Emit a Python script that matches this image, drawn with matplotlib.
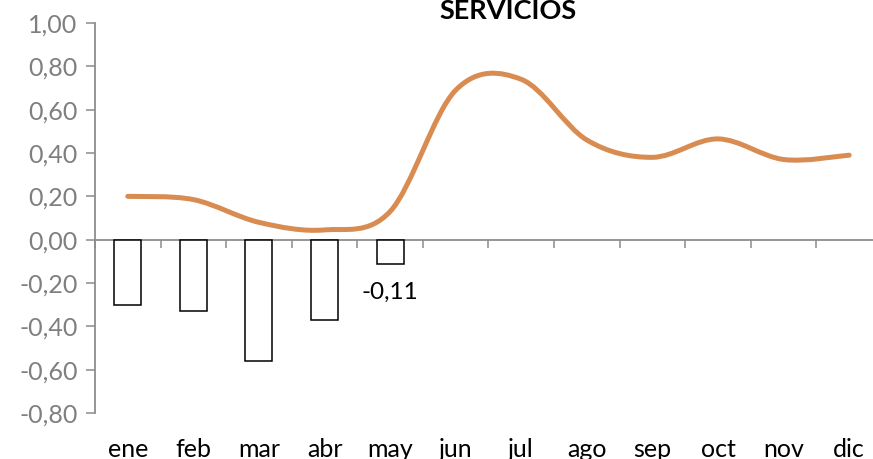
import numpy as np
import matplotlib
matplotlib.use("Agg")
import matplotlib.pyplot as plt
from matplotlib.path import Path
from matplotlib.patches import PathPatch

plt.rcParams["font.family"] = ["Lato", "DejaVu Sans"]

months = ["ene", "feb", "mar", "abr", "may", "jun", "jul", "ago", "sep", "oct", "nov", "dic"]
bar_vals = [-0.30, -0.33, -0.56, -0.37, -0.11]
line_vals = [0.20, 0.185, 0.08, 0.045, 0.13, 0.69, 0.74, 0.46, 0.38, 0.465, 0.37, 0.39]
yticks = [-0.8, -0.6, -0.4, -0.2, 0.0, 0.2, 0.4, 0.6, 0.8, 1.0]

fig = plt.figure(figsize=(8.73, 4.59), dpi=100)
ax = fig.add_axes([0.1088, 0.1002, 0.9015, 0.8497])

x = np.arange(len(months))
ax.bar(x[:len(bar_vals)], bar_vals, width=0.41, color="white", edgecolor="black", linewidth=1.1, zorder=2)

# smoothed line, Excel style (Catmull-Rom -> cubic Bezier)
pts = np.column_stack([x, line_vals]).astype(float)
verts = [pts[0]]
codes = [Path.MOVETO]
n = len(pts)
for i in range(n - 1):
    p0 = pts[max(i - 1, 0)]
    p1 = pts[i]
    p2 = pts[i + 1]
    p3 = pts[min(i + 2, n - 1)]
    c1 = p1 + (p2 - p0) / 6
    c2 = p2 - (p3 - p1) / 6
    verts += [c1, c2, p2]
    codes += [Path.CURVE4] * 3
ax.add_patch(PathPatch(Path(verts, codes), facecolor="none", edgecolor="#D98C52",
                       linewidth=3.6, capstyle="round", zorder=3))

ax.text(4, -0.245, "-0,11", ha="center", va="center", fontsize=17.5, color="black")

ax.set_xlim(-0.5, 11.5)
ax.set_ylim(-0.8, 1.0)
ax.set_yticks(yticks)
ax.set_yticklabels([f"{v:.2f}".replace(".", ",") for v in yticks])
ax.set_xticks(x)
ax.set_xticklabels(months)

for s in ["top", "right", "bottom"]:
    ax.spines[s].set_visible(False)
ax.spines["left"].set_color("#8c8c8c")
ax.spines["left"].set_linewidth(1.3)
ax.tick_params(axis="y", direction="out", length=6.5, width=1.1, color="#8c8c8c",
               labelcolor="#7f7f7f", labelsize=18, pad=6)
ax.tick_params(axis="x", length=0, labelsize=18, labelcolor="black", pad=18)

# zero line with category boundary ticks
sec = ax.secondary_xaxis(0.8 / 1.8)
sec.set_xticks(np.arange(-0.5, 12, 1.0))
sec.set_xticklabels([])
sec.tick_params(direction="out", length=6, width=1.1, color="#8c8c8c")
sec.spines["bottom"].set_color("#8c8c8c")
sec.spines["bottom"].set_linewidth(1.3)

fig.text(0.582, (459 - 19) / 459, "SERVICIOS", ha="center", va="baseline", fontsize=19.5, fontweight="bold")

fig.savefig("out.png", dpi=100)
